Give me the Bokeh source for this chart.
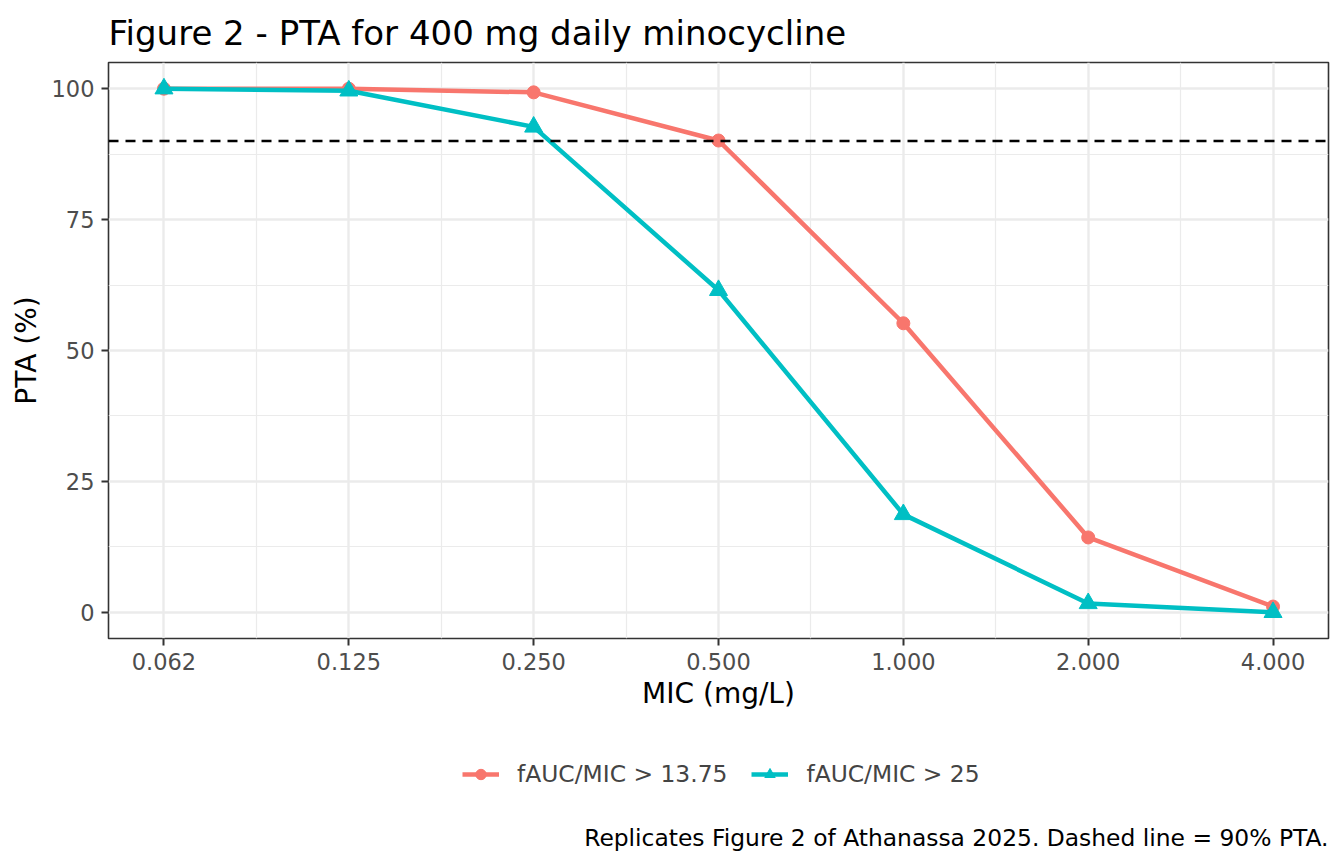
from bokeh.plotting import figure
from bokeh.layouts import column
from bokeh.models import Range1d, FixedTicker, Span, Legend, LegendItem, Label
from bokeh.embed import file_html
from bokeh.resources import INLINE

# data
mic = [0.0625, 0.125, 0.25, 0.5, 1.0, 2.0, 4.0]
mic_labels = ["0.062", "0.125", "0.250", "0.500", "1.000", "2.000", "4.000"]
pta_1375 = [100.0, 100.0, 99.3, 90.1, 55.2, 14.3, 1.1]
pta_25 = [100.0, 99.6, 92.7, 61.5, 18.7, 1.7, 0.0]
series_names = ["fAUC/MIC > 13.75", "fAUC/MIC > 25"]
y_ticks = [0, 25, 50, 75, 100]
target = 90

FONT = "DejaVu Sans"
RED = "#F8766D"
TEAL = "#00BFC4"

p = figure(frame_width=1220, frame_height=576, output_backend="svg", toolbar_location=None,
           x_axis_type="log",
           x_range=Range1d(mic[0] * 2 ** -0.3, mic[-1] * 2 ** 0.3),
           y_range=Range1d(-5, 105),
           min_border_left=108, min_border_right=8, min_border_top=62, min_border_bottom=82)

p.title.text = "Figure 2 - PTA for 400 mg daily minocycline"
p.title.text_font = FONT
p.title.text_font_size = "34px"
p.title.text_font_style = "normal"
p.title.text_color = "black"
p.title.align = "left"
p.title.standoff = 20

p.background_fill_color = "white"
p.border_fill_color = "white"
p.outline_line_color = "#333333"
p.outline_line_width = 1.6

# ticks & grid
minor_x = [(a * b) ** 0.5 for a, b in zip(mic[:-1], mic[1:])]
p.xaxis.ticker = FixedTicker(ticks=mic, minor_ticks=minor_x)
p.xaxis.major_label_overrides = {m: lab for m, lab in zip(mic, mic_labels)}
minor_y = [(a + b) / 2 for a, b in zip(y_ticks[:-1], y_ticks[1:])]
p.yaxis.ticker = FixedTicker(ticks=y_ticks, minor_ticks=minor_y)

for ax in (p.xaxis, p.yaxis):
    ax.axis_line_color = None
    ax.major_tick_line_color = "#333333"
    ax.major_tick_line_width = 2
    ax.major_tick_in = 0
    ax.major_tick_out = 7
    ax.minor_tick_line_color = None
    ax.major_label_text_font = FONT
    ax.major_label_text_font_size = "22.5px"
    ax.major_label_text_color = "#4D4D4D"
    ax.axis_label_text_font = FONT
    ax.axis_label_text_font_size = "28px"
    ax.axis_label_text_font_style = "normal"
    ax.axis_label_text_color = "black"

p.xaxis.major_label_standoff = 7
p.xaxis.axis_label_standoff = 4
p.yaxis.major_label_standoff = 7
p.yaxis.axis_label_standoff = 6

p.xaxis.axis_label = "MIC (mg/L)"
p.yaxis.axis_label = "PTA (%)"

p.grid.grid_line_color = "#EBEBEB"
p.grid.grid_line_width = 2.4
p.grid.minor_grid_line_color = "#EBEBEB"
p.grid.minor_grid_line_width = 1.2

p.add_layout(Span(location=target, dimension="width", line_color="black",
                  line_width=2.5, line_dash="10 7"))

def draw_series(fig, ys, color, marker, size):
    ln = fig.line(mic, ys, line_color=color, line_width=4.5)
    pt = fig.scatter(mic, ys, marker=marker, size=size, fill_color=color, line_color=color)
    return [ln, pt]

draw_series(p, pta_1375, RED, "circle", 13)
draw_series(p, pta_25, TEAL, "triangle", 18)

# strip below the chart holding the legend and the caption
# (its ranges keep the series out of view; they only feed the legend glyphs)
foot = figure(width=1336, height=136, output_backend="svg", toolbar_location=None,
              x_range=Range1d(-2, -1), y_range=Range1d(-2, -1),
              min_border=0)
foot.axis.visible = False
foot.grid.visible = False
foot.outline_line_color = None
foot.background_fill_color = "white"
foot.border_fill_color = "white"

k1 = draw_series(foot, pta_1375, RED, "circle", 13)
k2 = draw_series(foot, pta_25, TEAL, "triangle", 18)

legend = Legend(items=[LegendItem(label=series_names[0], renderers=k1),
                       LegendItem(label=series_names[1], renderers=k2)],
                orientation="horizontal", location=(354, 68),
                label_text_font=FONT, label_text_font_size="23.4px",
                glyph_width=37, glyph_height=26, label_standoff=18, spacing=24,
                border_line_color=None, background_fill_alpha=0,
                margin=0, padding=0)
foot.add_layout(legend, "center")

caption = Label(x=1220, y=19, x_units="screen", y_units="screen",
                text="Replicates Figure 2 of Athanassa 2025. Dashed line = 90% PTA.",
                text_align="right", text_baseline="middle",
                text_font=FONT, text_font_size="23.4px", text_color="black")
foot.add_layout(caption)

layout = column(p, foot, spacing=0)
open("out.html", "w").write(file_html(layout, INLINE))
